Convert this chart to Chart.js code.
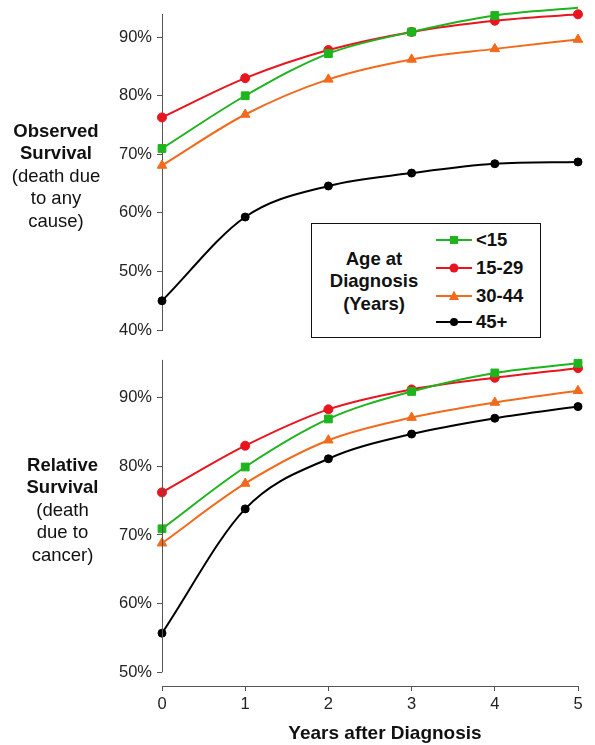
<!DOCTYPE html>
<html>
<head>
<meta charset="utf-8">
<script src="https://cdn.jsdelivr.net/npm/chart.js@4.4.0/dist/chart.umd.min.js"></script>
<style>
  body { margin: 0; background: #fff; font-family: "Liberation Sans", Arial, sans-serif; }
  #wrap { position: relative; width: 595px; height: 745px; overflow: hidden; }
  #topBox { position: absolute; left: 0; top: 0; width: 595px; height: 345px; }
  #botBox { position: absolute; left: 0; top: 345px; width: 595px; height: 400px; }
  .side { position: absolute; width: 120px; text-align: center; font-size: 18.5px; line-height: 22.5px; color: #111; }
  .side b { font-weight: bold; }
  #xTitle { position: absolute; left: 235px; width: 300px; top: 721px; text-align: center;
            font-weight: bold; font-size: 19px; line-height: 24px; color: #111; }
  #legend { position: absolute; left: 311px; top: 223px; width: 228px; height: 113px;
            border: 1.5px solid #111; background: #fff; }
  #legend .ttl { position: absolute; left: 0; top: 23.5px; width: 124px; text-align: center;
                 font-weight: bold; font-size: 18.5px; line-height: 22.5px; color: #111; }
  #legend .row { position: absolute; left: 124px; height: 22px; display: flex; align-items: center;
                 font-weight: bold; font-size: 18.5px; color: #111; }
  #legend svg { margin-right: 4px; }
</style>
</head>
<body>
<div id="wrap">
  <div id="topBox"><canvas id="observedChart"></canvas></div>
  <div id="botBox"><canvas id="relativeChart"></canvas></div>
  <div class="side" style="left:-4px; top:119.5px;"><b>Observed<br>Survival</b><br>(death due<br>to any<br>cause)</div>
  <div class="side" style="left:2.5px; top:453.5px;"><b>Relative<br>Survival</b><br>(death<br>due to<br>cancer)</div>
  <div id="xTitle">Years after Diagnosis</div>
  <div id="legend"></div>
</div>
<script>
// years after diagnosis
const years = ['0', '1', '2', '3', '4', '5'];
const ageGroups = ['<15', '15-29', '30-44', '45+'];

// observed survival (%)
const observedU15 = [71.0, 80.0, 87.2, 90.9, 93.7, 95.0];
const observed15to29 = [76.3, 83.0, 87.8, 90.9, 92.8, 93.9];
const observed30to44 = [68.1, 76.8, 82.8, 86.2, 88.0, 89.6];
const observed45plus = [45.0, 59.3, 64.6, 66.8, 68.4, 68.7];

// relative survival (%)
const relativeU15 = [70.9, 79.9, 86.9, 90.9, 93.6, 95.0];
const relative15to29 = [76.2, 83.0, 88.3, 91.2, 92.9, 94.3];
const relative30to44 = [68.8, 77.5, 83.8, 87.1, 89.3, 91.0];
const relative45plus = [55.7, 73.8, 81.1, 84.7, 87.0, 88.7];

const observedTicks = [40, 50, 60, 70, 80, 90];
const relativeTicks = [50, 60, 70, 80, 90];

const colors = ['#1db41d', '#e8141e', '#f26a1b', '#000000'];
const markers = ['rect', 'circle', 'triangle', 'circle'];
const markerSize = [5.5, 4.5, 5.5, 4];

const axisColor = '#555';
const tickFont = { family: '"Liberation Sans", Arial, sans-serif', size: 16.5 };

function makeDatasets(seriesList) {
    return seriesList.map((values, i) => ({
        label: ageGroups[i],
        data: values,
        borderColor: colors[i],
        backgroundColor: colors[i],
        borderWidth: 2,
        pointStyle: markers[i],
        pointRadius: markerSize[i],
        pointBorderWidth: 1,
        cubicInterpolationMode: 'monotone',
        clip: false
    }));
}

function yAxis(min, max, tickValues, showBorder) {
    return {
        min: min,
        max: max,
        afterFit: (scale) => { scale.width = 162; },
        afterBuildTicks: (scale) => { scale.ticks = tickValues.map(v => ({ value: v })); },
        border: { display: showBorder, color: axisColor, width: 1 },
        grid: { drawOnChartArea: false, tickLength: 5, tickColor: axisColor, color: axisColor },
        ticks: { color: '#222', font: tickFont, padding: 5, callback: (v) => v + '%' }
    };
}

// y axis line for the bottom panel stops at its lowest tick
const partialAxis = {
    id: 'partialAxis',
    afterDraw(chart, args, opts) {
        if (!opts.from) return;
        const y = chart.scales.y;
        const ctx = chart.ctx;
        ctx.save();
        ctx.strokeStyle = axisColor;
        ctx.lineWidth = 1;
        ctx.beginPath();
        ctx.moveTo(chart.chartArea.left + 0.5, y.getPixelForValue(opts.from));
        ctx.lineTo(chart.chartArea.left + 0.5, chart.chartArea.top);
        ctx.stroke();
        ctx.restore();
    }
};

const baseOptions = {
    responsive: true,
    maintainAspectRatio: false,
    animation: false,
    plugins: { legend: { display: false }, tooltip: { enabled: false } }
};

new Chart(document.getElementById('observedChart'), {
    type: 'line',
    data: {
        labels: years,
        datasets: makeDatasets([observedU15, observed15to29, observed30to44, observed45plus])
    },
    options: {
        ...baseOptions,
        layout: { padding: { top: 13, right: 17, bottom: 9, left: 0 } },
        scales: {
            x: { display: false },
            y: yAxis(40, 93.8, observedTicks, true)
        }
    }
});

new Chart(document.getElementById('relativeChart'), {
    type: 'line',
    data: {
        labels: years,
        datasets: makeDatasets([relativeU15, relative15to29, relative30to44, relative45plus])
    },
    plugins: [partialAxis],
    options: {
        ...baseOptions,
        plugins: { ...baseOptions.plugins, partialAxis: { from: 50 } },
        layout: { padding: { top: 14, right: 17, bottom: 0, left: 0 } },
        scales: {
            x: {
                afterFit: (scale) => { scale.height = 59; },
                border: { color: axisColor, width: 1 },
                grid: { drawOnChartArea: false, tickLength: 5, tickColor: axisColor, color: axisColor },
                ticks: { color: '#222', font: tickFont, padding: 4, maxRotation: 0 }
            },
            y: yAxis(48, 95.5, relativeTicks, false)
        }
    }
});

// legend box
const legendEl = document.getElementById('legend');
legendEl.innerHTML = '<div class="ttl">Age at<br>Diagnosis<br>(Years)</div>';
const rowTops = [5, 33, 60.5, 87];
ageGroups.forEach((name, i) => {
    let mark;
    if (markers[i] === 'rect') {
        mark = `<rect x="14" y="6" width="8" height="8" fill="${colors[i]}"/>`;
    } else if (markers[i] === 'triangle') {
        mark = `<polygon points="18,4.5 23,14 13,14" fill="${colors[i]}"/>`;
    } else {
        mark = `<circle cx="18" cy="10" r="${markerSize[i]}" fill="${colors[i]}"/>`;
    }
    const row = document.createElement('div');
    row.className = 'row';
    row.style.top = rowTops[i] + 'px';
    row.innerHTML = `<svg width="36" height="20"><line x1="0" y1="10" x2="36" y2="10" stroke="${colors[i]}" stroke-width="2"/>${mark}</svg>${name}`;
    legendEl.appendChild(row);
});
</script>
</body>
</html>
